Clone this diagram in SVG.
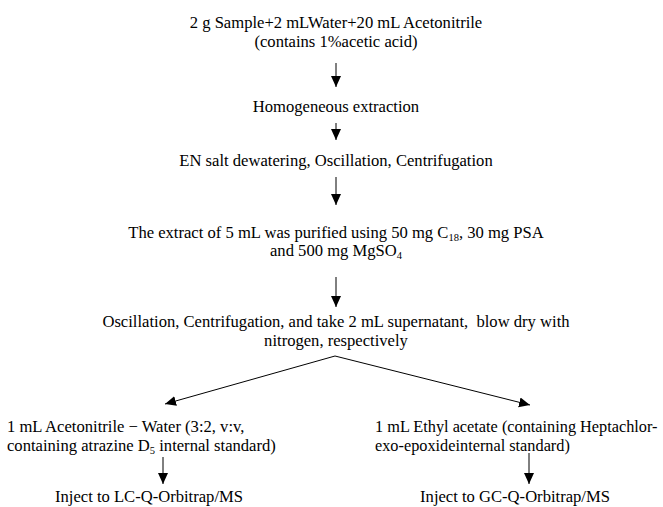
<svg xmlns="http://www.w3.org/2000/svg" width="663" height="507" viewBox="0 0 663 507">
<defs>
<marker id="ah" markerWidth="12" markerHeight="12" viewBox="0 0 12 12" refX="11" refY="6" orient="auto" markerUnits="userSpaceOnUse">
<path d="M0,1 L11,6 L0,11 Z" fill="#000"/>
</marker>
<style>
text{font-family:"Liberation Serif","Times New Roman","Noto Sans CJK SC",serif;font-size:16.6px;fill:#000}
.c{text-anchor:middle}
.sub{font-size:10.5px}
.r{font-size:16.3px}
.conn line{stroke:#000;stroke-width:1;marker-end:url(#ah)}
</style>
</defs>
<rect width="663" height="507" fill="#fff"/>
<g id="n1"><text class="c" x="336" y="28">2 g Sample+2 mLWater+20 mL Acetonitrile</text><text class="c" x="336" y="47">(contains 1%acetic acid)</text></g>
<g id="n2"><text class="c" x="336" y="112">Homogeneous extraction</text></g>
<g id="n3"><text class="c" x="336" y="166">EN salt dewatering, Oscillation, Centrifugation</text></g>
<g id="n4"><text class="c" x="336" y="238">The extract of 5 mL was purified using 50 mg C<tspan class="sub" dy="3">18</tspan><tspan dy="-3">, 30 mg PSA</tspan></text><text class="c" x="336" y="256">and 500 mg MgSO<tspan class="sub" dy="3">4</tspan></text></g>
<g id="n5"><text class="c" x="336" y="327">Oscillation, Centrifugation, and take 2 mL supernatant,&#160; blow dry with</text><text class="c" x="336" y="346">nitrogen, respectively</text></g>
<g id="n6"><text x="7" y="432">1 mL Acetonitrile − Water (3:2, v:v,</text><text x="7" y="451">containing atrazine D<tspan class="sub" dy="3">5</tspan><tspan dy="-3"> internal standard)</tspan></text></g>
<g id="n7"><text class="r" x="375" y="432">1 mL Ethyl acetate (containing Heptachlor-</text><text class="r" x="375" y="451">exo-epoxideinternal standard)</text></g>
<g id="n8"><text class="c" x="149" y="502">Inject to LC-Q-Orbitrap/MS</text></g>
<g id="n9"><text class="c" x="515" y="502">Inject to GC-Q-Orbitrap/MS</text></g>
<g id="connectors" class="conn">
<line x1="336" y1="63" x2="336" y2="87"/>
<line x1="336" y1="123" x2="336" y2="140"/>
<line x1="336" y1="177" x2="336" y2="205"/>
<line x1="336" y1="277" x2="336" y2="307"/>
<line x1="335" y1="356" x2="165" y2="404"/>
<line x1="335" y1="356" x2="530" y2="405"/>
<line x1="163" y1="457" x2="163" y2="484"/>
<line x1="529" y1="453" x2="529" y2="484"/>
</g>
</svg>
